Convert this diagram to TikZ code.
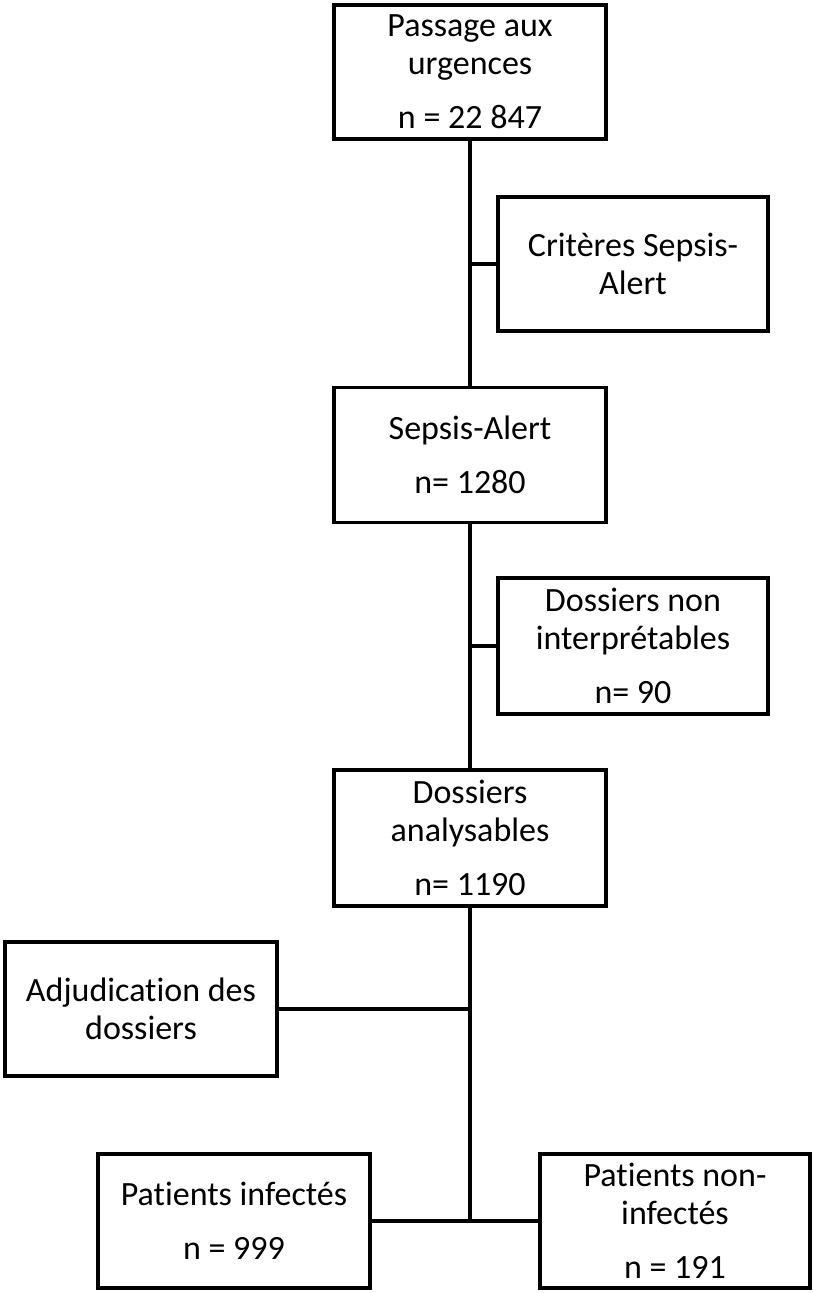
\documentclass[tikz,border=0pt]{standalone}
\usepackage{fontspec}
\setmainfont[Ligatures=NoCommon]{Carlito}
\begin{document}
\begin{tikzpicture}[x=1pt,y=-1pt,
  box/.style={draw=black, fill=white, line width=3.6pt, rectangle, inner sep=0pt,
    align=center, font=\fontsize{34}{38}\selectfont},
  link/.style={draw=black, line width=3.6pt}]
\useasboundingbox (0,0) rectangle (813,1293);
\fill[white] (0,0) rectangle (813,1293);
% boxes
\node[box, minimum width=272pt, minimum height=134pt] (b1) at (470,72)
  {Passage aux\\urgences\\[16pt]n = 22 847};
\node[box, minimum width=270pt, minimum height=134pt] (b2) at (633,264)
  {Critères Sepsis-\\Alert};
\node[box, minimum width=272pt, minimum height=135pt] (b3) at (470,455)
  {Sepsis-Alert\\[16pt]n= 1280};
\node[box, minimum width=270pt, minimum height=136pt] (b4) at (633,646)
  {Dossiers non\\interprétables\\[16pt]n= 90};
\node[box, minimum width=272pt, minimum height=136pt] (b5) at (470,838)
  {Dossiers\\analysables\\[16pt]n= 1190};
\node[box, minimum width=272pt, minimum height=134pt] (b6) at (141,1009)
  {Adjudication des\\dossiers};
\node[box, minimum width=272pt, minimum height=134pt] (b7) at (234,1221)
  {Patients infectés\\[16pt]n = 999};
\node[box, minimum width=270pt, minimum height=134pt] (b8) at (675,1221)
  {Patients non-\\infectés\\[16pt]n = 191};
\coordinate (j) at (470,1221);
% connectors
\draw[link] (b1.south) -- (b3.north);
\draw[link] (b3.south) -- (b5.north);
\draw[link] (b5.south) -- (j);
\draw[link] (b2.west) -- (b2.west -| b1.south);
\draw[link] (b4.west) -- (b4.west -| b3.south);
\draw[link] (b6.east) -- (b6.east -| b5.south);
\draw[link] (b7.east) -- (b8.west);
\end{tikzpicture}
\end{document}
